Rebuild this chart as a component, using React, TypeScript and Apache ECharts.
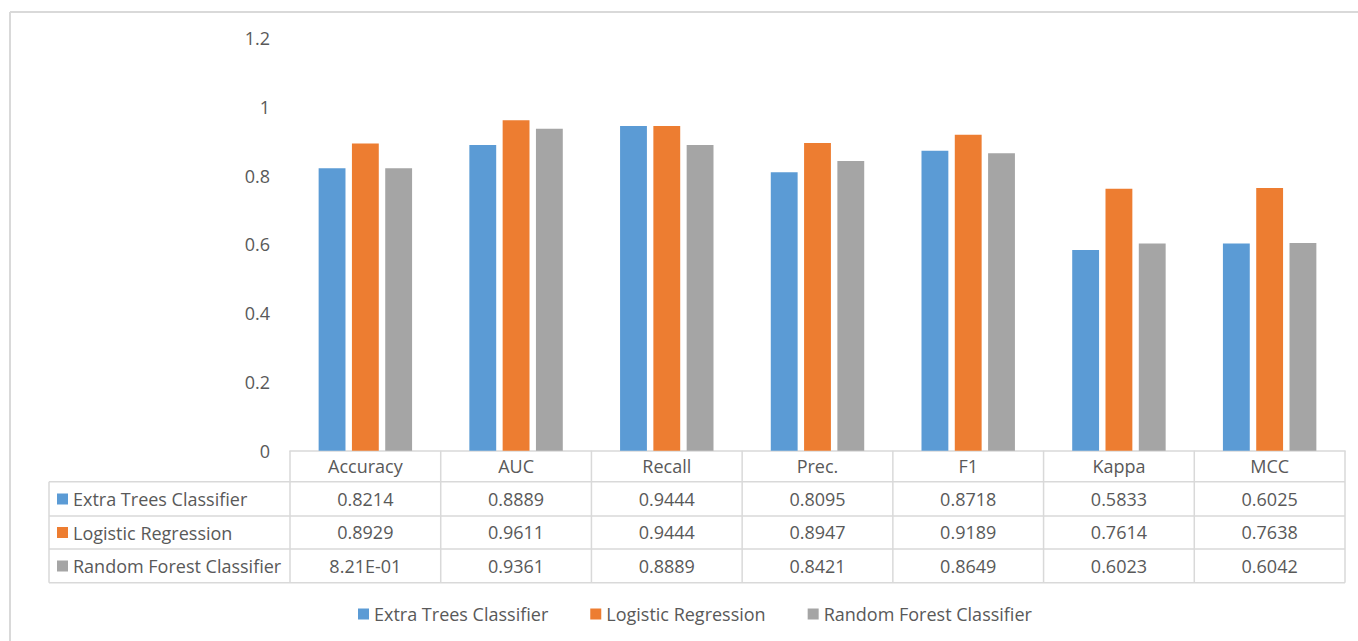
import React, { useEffect, useRef } from "react";
import * as echarts from "echarts";

// Metric categories shown along the x axis / table header
const categories = ["Accuracy", "AUC", "Recall", "Prec.", "F1", "Kappa", "MCC"];

// Classifier names
const seriesNames = [
  "Extra Trees Classifier",
  "Logistic Regression",
  "Random Forest Classifier",
];

// Scores per classifier, in category order
const extraTrees = [0.8214, 0.8889, 0.9444, 0.8095, 0.8718, 0.5833, 0.6025];
const logisticRegression = [0.8929, 0.9611, 0.9444, 0.8947, 0.9189, 0.7614, 0.7638];
const randomForest = [0.821, 0.9361, 0.8889, 0.8421, 0.8649, 0.6023, 0.6042];

// Cells of the data table printed in scientific notation: [seriesIndex, categoryIndex]
const scientificCells = [[2, 0]];

const colors = ["#5B9BD5", "#ED7D31", "#A5A5A5"];
const textColor = "#595959";
const lineColor = "#D9D9D9";
const font = "'Open Sans', 'Noto Sans', sans-serif";
const fontSize = 18;

const W = 1358;
const H = 641;

function scientific(v: number): string {
  const [m, e] = v.toExponential(2).split("e");
  const n = Number(e);
  return m + "E" + (n < 0 ? "-" : "+") + String(Math.abs(n)).padStart(2, "0");
}

function cellText(seriesIndex: number, catIndex: number, v: number): string {
  const sci = scientificCells.some(([s, c]) => s === seriesIndex && c === catIndex);
  return sci ? scientific(v) : v.toFixed(4);
}

export default function App() {
  const ref = useRef<HTMLDivElement>(null);

  useEffect(() => {
    if (!ref.current) return;
    const chart = echarts.init(ref.current, undefined, { renderer: "svg" });

    const values = [extraTrees, logisticRegression, randomForest];

    // plot / table geometry
    const gridLeft = 290;
    const gridRight = 13;
    const gridTop = 38;
    const axisY = 450.7;
    const gridBottom = H - axisY;
    const gridWidth = W - gridLeft - gridRight;
    const colW = gridWidth / categories.length;
    const tableLeft = 49;
    const rowLines = [481.7, 516, 549, 582.7];
    const rowCenters = [466, 499, 531.7, 566];

    const graphic: any[] = [];
    const ln = (x1: number, y1: number, x2: number, y2: number, c = lineColor, w = 1.5) => ({
      type: "line",
      silent: true,
      shape: { x1, y1, x2, y2 },
      style: { stroke: c, lineWidth: w },
    });

    // outer chart frame (top and left edges)
    graphic.push(ln(10, 12, W, 12, "#D9D9D9", 2));
    graphic.push(ln(10, 12, 10, H, "#D9D9D9", 2));

    // table horizontal rules
    rowLines.forEach((y) => graphic.push(ln(tableLeft, y, gridLeft + gridWidth, y)));
    // table left border
    graphic.push(ln(tableLeft, rowLines[0], tableLeft, rowLines[rowLines.length - 1]));
    // column rules
    for (let i = 0; i <= categories.length; i++) {
      const x = gridLeft + i * colW;
      graphic.push(ln(x, axisY, x, rowLines[rowLines.length - 1]));
    }

    const labelBase = {
      color: textColor,
      fontFamily: font,
      fontSize,
      lineHeight: 20,
      verticalAlign: "middle",
      interval: 0,
    };

    const xAxes: any[] = [
      {
        type: "category",
        data: categories,
        position: "bottom",
        axisLine: { show: true, lineStyle: { color: lineColor, width: 1.5 } },
        axisTick: { show: false },
        axisLabel: { ...labelBase, margin: rowCenters[0] - axisY },
      },
    ];
    values.forEach((vals, s) => {
      xAxes.push({
        type: "category",
        data: categories,
        position: "bottom",
        axisLine: { show: false },
        axisTick: { show: false },
        splitLine: { show: false },
        axisLabel: {
          ...labelBase,
          margin: rowCenters[s + 1] - axisY,
          formatter: (_v: string, idx: number) => cellText(s, idx, vals[idx]),
        },
      });
    });

    chart.setOption({
      animation: false,
      color: colors,
      textStyle: { fontFamily: font, color: textColor },
      grid: {
        left: gridLeft,
        right: gridRight,
        top: gridTop,
        bottom: gridBottom,
        containLabel: false,
      },
      legend: [
        {
          data: seriesNames,
          left: 358,
          top: 604,
          padding: 0,
          itemGap: 42,
          itemWidth: 11,
          itemHeight: 11,
          icon: "rect",
          textStyle: { color: textColor, fontFamily: font, fontSize, lineHeight: 20 },
        },
        {
          data: seriesNames,
          orient: "vertical",
          left: 57,
          top: rowCenters[1] - 10,
          padding: 0,
          itemGap: 13.5,
          itemWidth: 11,
          itemHeight: 11,
          icon: "rect",
          textStyle: { color: textColor, fontFamily: font, fontSize, lineHeight: 20 },
        },
      ],
      xAxis: xAxes,
      yAxis: {
        type: "value",
        min: 0,
        max: 1.2,
        interval: 0.2,
        axisLine: { show: false },
        axisTick: { show: false },
        splitLine: { show: false },
        axisLabel: { color: textColor, fontFamily: font, fontSize, margin: 20 },
      },
      series: values.map((vals, s) => ({
        name: seriesNames[s],
        type: "bar",
        xAxisIndex: 0,
        data: vals,
        barGap: "24%",
        barCategoryGap: "38%",
        itemStyle: { color: colors[s] },
      })),
      graphic,
    });

    return () => chart.dispose();
  }, []);

  return (
    <div
      ref={ref}
      style={{ position: "absolute", left: 0, top: 0, width: W, height: H, background: "#fff" }}
    />
  );
}
